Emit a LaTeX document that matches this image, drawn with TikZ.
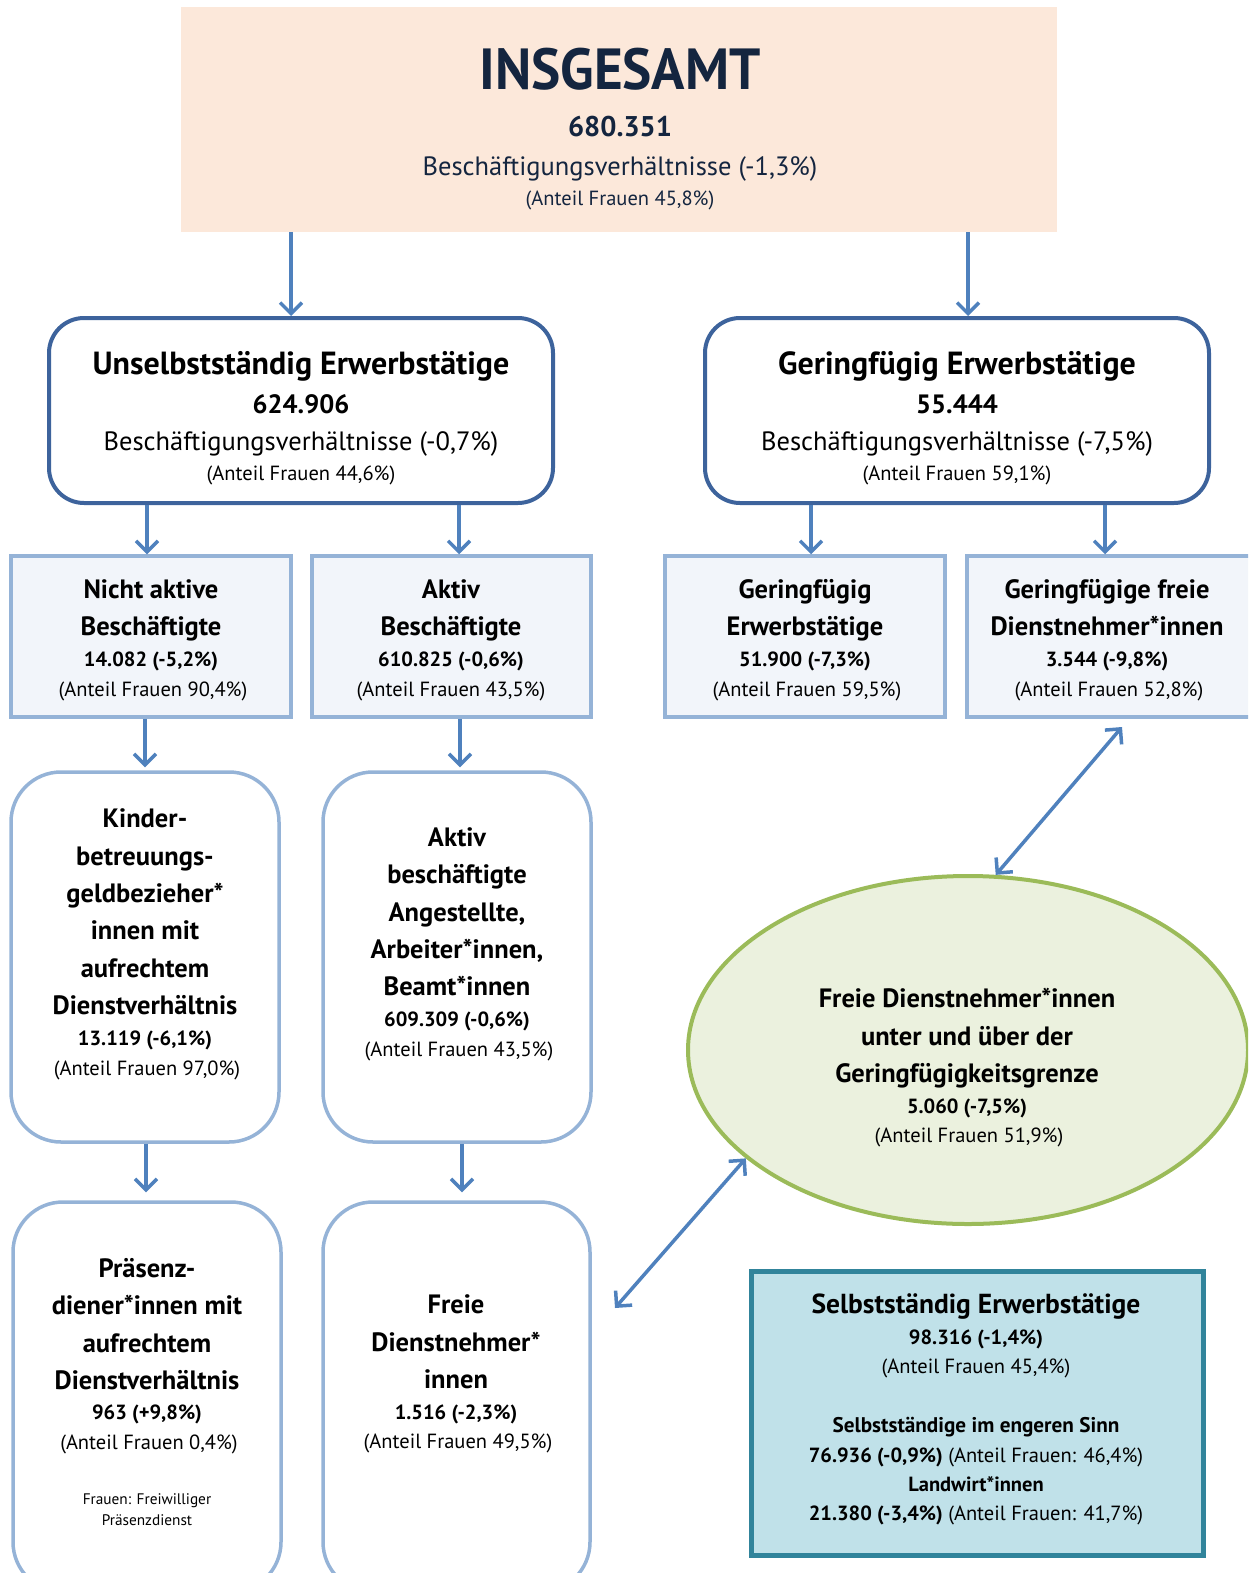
\documentclass[tikz,border=0pt]{standalone}
\usepackage{fontspec}
\setmainfont{PT Sans}
\newfontfamily\narrowfont{PT Sans}[FakeStretch=0.95]
\usetikzlibrary{arrows.meta,shapes.geometric,calc}
\definecolor{peach}{HTML}{FCE8DA}
\definecolor{navy}{HTML}{14253F}
\definecolor{arrowblue}{HTML}{4F81BD}
\definecolor{darkborder}{HTML}{3D639C}
\definecolor{lightborder}{HTML}{95B3D7}
\definecolor{lightfill}{HTML}{F2F5FA}
\definecolor{ellfill}{HTML}{EBF1DE}
\definecolor{ellborder}{HTML}{9BBB59}
\definecolor{selfill}{HTML}{C0E1E9}
\definecolor{selborder}{HTML}{31849B}
\begin{document}
\begin{tikzpicture}[x=1pt,y=-1pt,
  t/.style={anchor=mid, inner sep=0pt, align=center},
  fT/.style={t, font=\narrowfont\bfseries\fontsize{58}{60}\selectfont, text=navy, yshift=-17pt},
  fTN/.style={t, font=\bfseries\fontsize{28.5}{30}\selectfont, text=navy, yshift=-8.5pt},
  fN/.style={t, font=\bfseries\fontsize{26.5}{30}\selectfont, yshift=-8pt},
  fB/.style={t, font=\fontsize{26.5}{30}\selectfont, yshift=-8pt},
  fA/.style={t, font=\fontsize{20.5}{24}\selectfont, yshift=-6pt},
  fH/.style={t, font=\bfseries\fontsize{32}{34}\selectfont, yshift=-9.5pt},
  fL/.style={t, font=\bfseries\fontsize{26.5}{30}\selectfont, yshift=-8pt},
  fSH/.style={t, font=\bfseries\fontsize{27.5}{30}\selectfont, yshift=-8pt},
  fn/.style={t, font=\bfseries\fontsize{20.5}{24}\selectfont, yshift=-6pt},
  fnb/.style={t, font=\bfseries\fontsize{21.2}{24}\selectfont, yshift=-6pt},
  fs/.style={t, font=\fontsize{15.3}{18}\selectfont, yshift=-6pt},
  dbox/.style={draw=darkborder, line width=4pt, rounded corners=35pt, fill=white, inner sep=0pt},
  lbox/.style={draw=lightborder, line width=3.5pt, fill=lightfill, inner sep=0pt},
  rbox/.style={draw=lightborder, line width=3.5pt, rounded corners=50pt, fill=white, inner sep=0pt},
  arr/.style={draw=arrowblue, line width=3.5pt, -{Straight Barb[length=11pt,width=22pt]}},
  darr/.style={draw=arrowblue, line width=3.5pt, {Straight Barb[length=11pt,width=22pt]}-{Straight Barb[length=11pt,width=22pt]}}
]
\useasboundingbox (0,0) rectangle (1248,1573);
\clip (0,0) rectangle (1248,1573);

% boxes
\node[fill=peach, minimum width=876pt, minimum height=225pt, inner sep=0pt] (top) at (619,119.5) {};
\node[dbox, minimum width=504pt, minimum height=185pt] (u) at (301,410.5) {};
\node[dbox, minimum width=504pt, minimum height=185pt] (g) at (957,410.5) {};
\node[lbox, minimum width=280pt, minimum height=161pt] (b1) at (151,636.5) {};
\node[lbox, minimum width=279pt, minimum height=161pt] (b2) at (451.5,636.5) {};
\node[lbox, minimum width=280pt, minimum height=161pt] (b3) at (805,636.5) {};
\node[lbox, minimum width=300pt, minimum height=161pt] (b4) at (1117,636.5) {};
\node[rbox, minimum width=268pt, minimum height=370pt] (b5) at (145,957) {};
\node[rbox, minimum width=268pt, minimum height=370pt] (b6) at (457,957) {};
\node[rbox, minimum width=268pt, minimum height=390pt] (b7) at (147,1397) {};
\node[rbox, minimum width=267pt, minimum height=390pt] (b8) at (456.5,1397) {};
\node[ellipse, draw=ellborder, line width=4pt, fill=ellfill, minimum width=560pt, minimum height=348pt, inner sep=0pt] (ell) at (968,1050) {};
\node[draw=selborder, line width=5pt, fill=selfill, minimum width=452pt, minimum height=284pt, inner sep=0pt] (sel) at (977,1413) {};

% arrow x positions and free ends
\coordinate (c291) at (291,0);
\coordinate (c968) at (968,0);
\coordinate (c147) at (147,0);
\coordinate (c459) at (459,0);
\coordinate (c811) at (811,0);
\coordinate (c1105) at (1105,0);
\coordinate (c145) at (145,0);
\coordinate (c460) at (460,0);
\coordinate (c146) at (146,0);
\coordinate (c462) at (462,0);
\coordinate (d1) at (1122,727);
\coordinate (d2) at (615,1308);

\draw[arr] (top.south -| c291) -- (u.north -| c291);
\draw[arr] (top.south -| c968) -- (g.north -| c968);
\draw[arr] (u.south -| c147) -- (b1.north -| c147);
\draw[arr] (u.south -| c459) -- (b2.north -| c459);
\draw[arr] (g.south -| c811) -- (b3.north -| c811);
\draw[arr] (g.south -| c1105) -- (b4.north -| c1105);
\draw[arr, shorten >=3pt] (b1.south -| c145) -- (b5.north -| c145);
\draw[arr, shorten >=3pt] (b2.south -| c460) -- (b6.north -| c460);
\draw[arr, shorten >=8pt] (b5.south -| c146) -- (b7.north -| c146);
\draw[arr, shorten >=8pt] (b6.south -| c462) -- (b8.north -| c462);
\draw[darr] (d1) -- (ell.81);
\draw[darr] (ell.206) -- (d2);

% top box text
\node[fT] (tt1) at (620,70) {INSGESAMT};
\node[fTN] (tt2) at (620,126) {680.351};
\node[fB, text=navy] (tt3) at (620,165) {Besch\"aftigungsverh\"altnisse (-1,3\%)};
\node[fA, text=navy] (tt4) at (620,197) {(Anteil Frauen 45,8\%)};

% Unselbststaendig
\node[fH] (ut1) at (301,362) {Unselbstst\"andig Erwerbst\"atige};
\node[fN] (ut2) at (301,403) {624.906};
\node[fB] (ut3) at (301,440) {Besch\"aftigungsverh\"altnisse (-0,7\%)};
\node[fA] (ut4) at (301,472) {(Anteil Frauen 44,6\%)};

% Geringfuegig
\node[fH] (gt1) at (957,362) {Geringf\"ugig Erwerbst\"atige};
\node[fN] (gt2) at (957,403) {55.444};
\node[fB] (gt3) at (957,440) {Besch\"aftigungsverh\"altnisse (-7,5\%)};
\node[fA] (gt4) at (957,472) {(Anteil Frauen 59,1\%)};

% light boxes
\node[fL] (b1t1) at (151,588) {Nicht aktive};
\node[fL] (b1t2) at (151,625) {Besch\"aftigte};
\node[fn] (b1t3) at (151,658) {14.082 (-5,2\%)};
\node[fA] (b1t4) at (153,688) {(Anteil Frauen 90,4\%)};

\node[fL] (b2t1) at (451,588) {Aktiv};
\node[fL] (b2t2) at (451,625) {Besch\"aftigte};
\node[fn] (b2t3) at (451,658) {610.825 (-0,6\%)};
\node[fA] (b2t4) at (451,688) {(Anteil Frauen 43,5\%)};

\node[fL] (b3t1) at (805,588) {Geringf\"ugig};
\node[fL] (b3t2) at (805,625) {Erwerbst\"atige};
\node[fn] (b3t3) at (805,658) {51.900 (-7,3\%)};
\node[fA] (b3t4) at (807,688) {(Anteil Frauen 59,5\%)};

\node[fL] (b4t1) at (1107,588) {Geringf\"ugige freie};
\node[fL] (b4t2) at (1107,625) {Dienstnehmer*innen};
\node[fn] (b4t3) at (1107,658) {3.544 (-9,8\%)};
\node[fA] (b4t4) at (1109,688) {(Anteil Frauen 52,8\%)};

% box 5
\node[fL] (b5t1) at (145,817) {Kinder-};
\node[fL] (b5t2) at (145,855) {betreuungs-};
\node[fL] (b5t3) at (145,892) {geldbezieher*};
\node[fL] (b5t4) at (145,929) {innen mit};
\node[fL] (b5t5) at (145,967) {aufrechtem};
\node[fL] (b5t6) at (145,1004) {Dienstverh\"altnis};
\node[fn] (b5t7) at (145,1037) {13.119 (-6,1\%)};
\node[fA] (b5t8) at (147,1067) {(Anteil Frauen 97,0\%)};

% box 6
\node[fL] (b6t1) at (457,836) {Aktiv};
\node[fL] (b6t2) at (457,873) {besch\"aftigte};
\node[fL] (b6t3) at (457,911) {Angestellte,};
\node[fL] (b6t4) at (457,948) {Arbeiter*innen,};
\node[fL] (b6t5) at (457,985) {Beamt*innen};
\node[fn] (b6t6) at (457,1018) {609.309 (-0,6\%)};
\node[fA] (b6t7) at (459,1048) {(Anteil Frauen 43,5\%)};

% box 7
\node[fL] (b7t1) at (147,1267) {Pr\"asenz-};
\node[fL] (b7t2) at (147,1304) {diener*innen mit};
\node[fL] (b7t3) at (147,1342) {aufrechtem};
\node[fL] (b7t4) at (147,1379) {Dienstverh\"altnis};
\node[fn] (b7t5) at (147,1411) {963 (+9,8\%)};
\node[fA] (b7t6) at (149,1441) {(Anteil Frauen 0,4\%)};
\node[fs] (b7t7) at (147,1496) {Frauen: Freiwilliger};
\node[fs] (b7t8) at (147,1517) {Pr\"asenzdienst};

% box 8
\node[fL] (b8t1) at (456,1303) {Freie};
\node[fL] (b8t2) at (456,1341) {Dienstnehmer*};
\node[fL] (b8t3) at (456,1378) {innen};
\node[fn] (b8t4) at (456,1411) {1.516 (-2,3\%)};
\node[fA] (b8t5) at (458,1440) {(Anteil Frauen 49,5\%)};

% ellipse
\node[fL] (et1) at (967,997) {Freie Dienstnehmer*innen};
\node[fL] (et2) at (967,1035) {unter und \"uber der};
\node[fL] (et3) at (967,1072) {Geringf\"ugigkeitsgrenze};
\node[fn] (et4) at (967,1105) {5.060 (-7,5\%)};
\node[fA] (et5) at (969,1134) {(Anteil Frauen 51,9\%)};

% selbststaendig
\node[fSH] (st1) at (976,1303) {Selbstst\"andig Erwerbst\"atige};
\node[fn] (st2) at (976,1336) {98.316 (-1,4\%)};
\node[fA] (st3) at (976,1365) {(Anteil Frauen 45,4\%)};
\node[fnb] (st4) at (976,1424) {Selbstst\"andige im engeren Sinn};
\node[fA] (st5) at (976,1454) {{\bfseries 76.936 (-0,9\%)} (Anteil Frauen: 46,4\%)};
\node[fn] (st6) at (976,1483) {Landwirt*innen};
\node[fA] (st7) at (976,1512) {{\bfseries 21.380 (-3,4\%)} (Anteil Frauen: 41,7\%)};
\end{tikzpicture}
\end{document}
